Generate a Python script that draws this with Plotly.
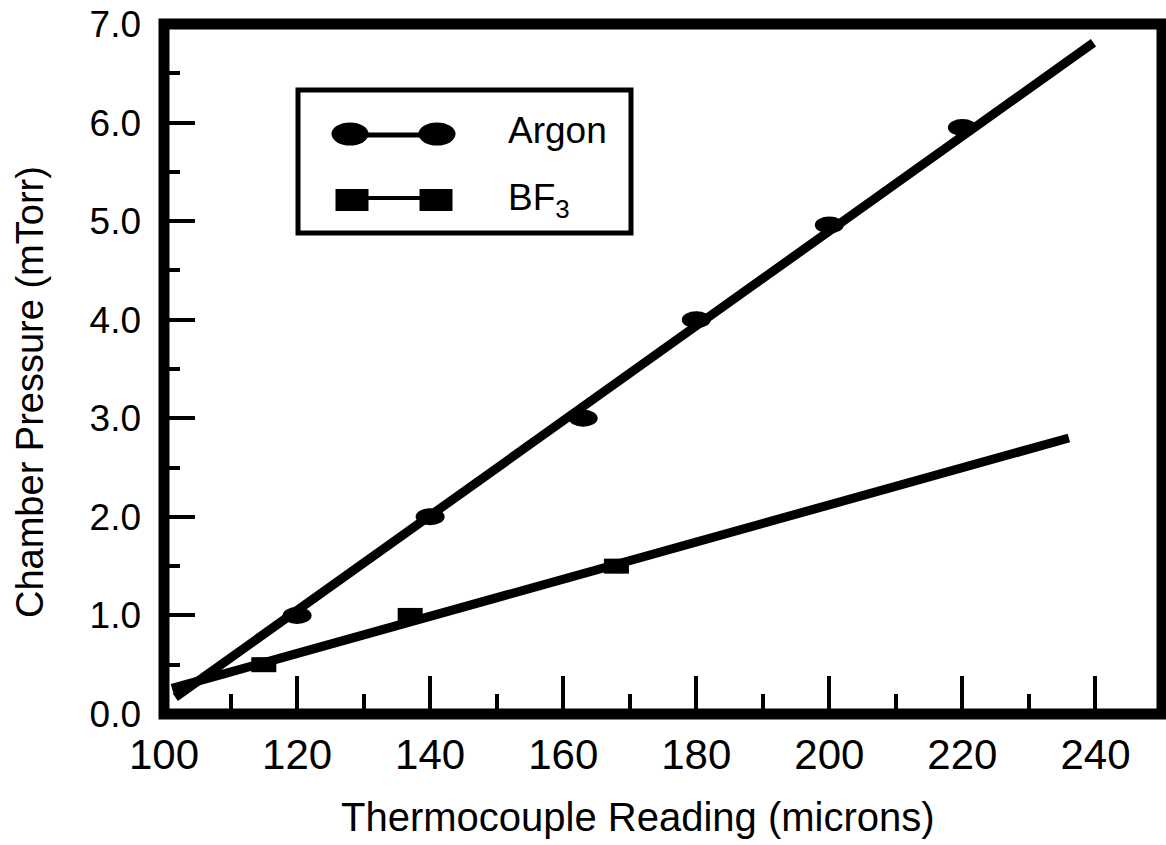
import plotly.graph_objects as go

# ---- data ----
argon_x = [120, 140, 163, 180, 200, 220]
argon_y = [1.0, 2.0, 3.0, 4.0, 4.96, 5.95]
bf3_x = [115, 137, 168]
bf3_y = [0.5, 1.0, 1.5]
argon_fit_x = [101.7, 239.7]
argon_fit_y = [0.17, 6.81]
bf3_fit_x = [101.2, 236]
bf3_fit_y = [0.26, 2.80]
x_ticks = [100, 120, 140, 160, 180, 200, 220, 240]
y_ticks = [0, 1, 2, 3, 4, 5, 6, 7]
legend_labels = ["Argon", "BF<sub>3</sub>"]

# ---- layout geometry (pixels) ----
W, H = 1166, 845
L, R, T, B = 164, 4, 24, 131
PW = W - L - R
PH = H - T - B
FONT = "Liberation Sans, Arial, Helvetica, sans-serif"


def pxx(x):
    return (x - L) / PW


def pxy(y):
    return (H - B - y) / PH


fig = go.Figure()

# fit lines
fig.add_trace(go.Scatter(x=argon_fit_x, y=argon_fit_y, mode="lines",
                         line=dict(color="black", width=9), showlegend=False,
                         hoverinfo="skip"))
fig.add_trace(go.Scatter(x=bf3_fit_x, y=bf3_fit_y, mode="lines",
                         line=dict(color="black", width=9), showlegend=False,
                         hoverinfo="skip"))
# data points
fig.add_trace(go.Scatter(x=argon_x, y=argon_y, mode="markers",
                         marker=dict(symbol="circle", size=16, color="black"),
                         name="Argon", showlegend=False))
fig.add_trace(go.Scatter(x=bf3_x, y=bf3_y, mode="markers",
                         marker=dict(symbol="square", size=14, color="black"),
                         name="BF3", showlegend=False))

shapes = []
# elongated marker bodies, anchored on data values
for xv, yv in zip(argon_x, argon_y):
    shapes.append(dict(type="circle", xref="x", yref="y", xsizemode="pixel",
                       ysizemode="pixel", xanchor=xv, yanchor=yv,
                       x0=-14.5, x1=14.5, y0=-8.5, y1=8.5,
                       fillcolor="black", line=dict(width=0)))
for xv, yv in zip(bf3_x, bf3_y):
    shapes.append(dict(type="rect", xref="x", yref="y", xsizemode="pixel",
                       ysizemode="pixel", xanchor=xv, yanchor=yv,
                       x0=-12.5, x1=12.5, y0=-7.5, y1=7.5,
                       fillcolor="black", line=dict(width=0)))

# frame
shapes.append(dict(type="rect", xref="paper", yref="paper", x0=0, x1=1, y0=0, y1=1,
                   line=dict(color="black", width=11), layer="above"))

# legend box
shapes.append(dict(type="rect", xref="paper", yref="paper",
                   x0=pxx(298), x1=pxx(631), y0=pxy(90), y1=pxy(233),
                   line=dict(color="black", width=5), fillcolor="white", layer="above"))
# legend argon
shapes.append(dict(type="line", xref="paper", yref="paper",
                   x0=pxx(350), x1=pxx(437), y0=pxy(135), y1=pxy(135),
                   line=dict(color="black", width=5), layer="above"))
for cx in (350, 437):
    shapes.append(dict(type="circle", xref="paper", yref="paper",
                       xsizemode="pixel", ysizemode="pixel",
                       xanchor=pxx(cx), yanchor=pxy(134),
                       x0=-18.5, x1=18.5, y0=-11.5, y1=11.5,
                       fillcolor="black", line=dict(width=0), layer="above"))
# legend bf3
shapes.append(dict(type="line", xref="paper", yref="paper",
                   x0=pxx(352), x1=pxx(436), y0=pxy(198), y1=pxy(198),
                   line=dict(color="black", width=4), layer="above"))
for cx in (352, 436):
    shapes.append(dict(type="rect", xref="paper", yref="paper",
                       xsizemode="pixel", ysizemode="pixel",
                       xanchor=pxx(cx), yanchor=pxy(200),
                       x0=-16.5, x1=16.5, y0=-11, y1=11,
                       fillcolor="black", line=dict(width=0), layer="above"))

annotations = [
    dict(text=legend_labels[0], xref="paper", yref="paper", x=pxx(506), y=pxy(131),
         xanchor="left", yanchor="middle", showarrow=False,
         font=dict(family=FONT, size=37, color="black")),
    dict(text=legend_labels[1], xref="paper", yref="paper", x=pxx(506), y=pxy(200),
         xanchor="left", yanchor="middle", showarrow=False,
         font=dict(family=FONT, size=37, color="black")),
    dict(text="Thermocouple Reading (microns)", xref="paper", yref="paper",
         x=pxx(638), y=pxy(817), xanchor="center", yanchor="middle", showarrow=False,
         font=dict(family=FONT, size=40, color="black")),
    dict(text="Chamber Pressure (mTorr)", xref="paper", yref="paper",
         x=pxx(30), y=pxy(392), xanchor="center", yanchor="middle", showarrow=False,
         textangle=-90, font=dict(family=FONT, size=38, color="black")),
]

fig.update_layout(
    width=W, height=H,
    margin=dict(l=L, r=R, t=T, b=B, pad=0),
    paper_bgcolor="white", plot_bgcolor="white",
    showlegend=False,
    shapes=shapes,
    annotations=annotations,
    xaxis=dict(range=[100, 250], tickvals=x_ticks, ticktext=[str(v) for v in x_ticks],
               ticks="inside", ticklen=38, tickwidth=4, tickcolor="black",
               showline=False, showgrid=False, zeroline=False,
               minor=dict(dtick=10, tick0=100, ticks="inside", ticklen=20, tickwidth=4,
                          tickcolor="black", showgrid=False),
               tickfont=dict(family=FONT, size=42, color="black"),
               ticklabelstandoff=12),
    yaxis=dict(range=[0, 7], tickvals=y_ticks, tickformat=".1f",
               ticks="inside", ticklen=31, tickwidth=4, tickcolor="black",
               showline=False, showgrid=False, zeroline=False,
               minor=dict(dtick=0.5, tick0=0, ticks="inside", ticklen=16, tickwidth=4,
                          tickcolor="black", showgrid=False),
               tickfont=dict(family=FONT, size=37, color="black"),
               ticklabelstandoff=22),
)

fig.write_html("out.html")
